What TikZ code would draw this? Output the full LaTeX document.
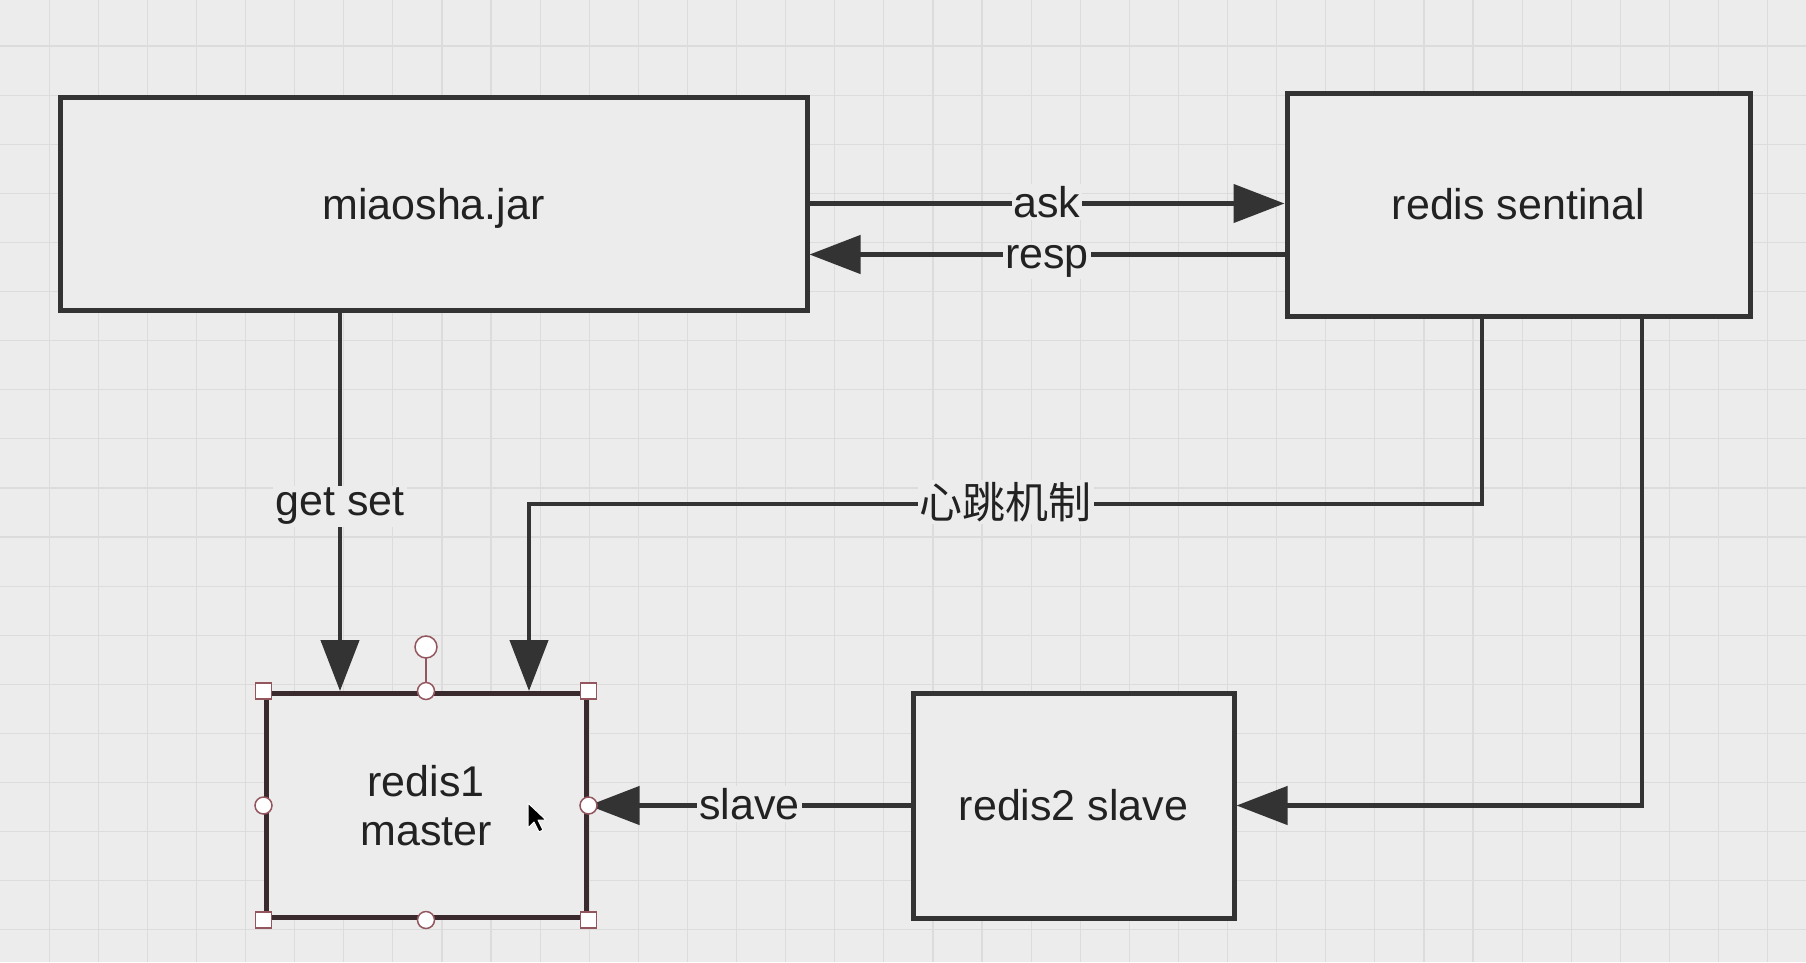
\documentclass[tikz,border=0pt]{standalone}
\usepackage{xcolor}
\usepackage{fontspec}
\usepackage{tikz}
\usetikzlibrary{arrows.meta}
\setmainfont{Liberation Sans}
\newfontfamily\cjk{Noto Sans CJK SC}

\definecolor{bgcol}{HTML}{ECECEC}
\definecolor{gridcol}{HTML}{DCDCDC}
\definecolor{linecol}{HTML}{333333}
\definecolor{textcol}{HTML}{222222}
\definecolor{selcol}{HTML}{94565E}
\definecolor{selbox}{HTML}{3A2A2D}

\tikzset{
  box/.style={draw=linecol, line width=5pt, fill=bgcol, inner sep=0pt,
    text=textcol, font=\fontsize{43}{49}\selectfont, align=center},
  link/.style={draw=linecol, line width=4.5pt,
    -{Triangle[length=51pt,width=38pt]}},
  tag/.style={fill=bgcol, inner sep=2pt, anchor=base, yshift=-14pt, text=textcol,
    font=\fontsize{43}{49}\selectfont},
  gridline/.style={draw=gridcol, line width=1.2pt},
  handle/.style={draw=selcol, fill=white, line width=1.5pt}
}

\begin{document}
\begin{tikzpicture}[x=1pt, y=-1pt]
    % background and grid
    \fill[bgcol] (0,0) rectangle (1806,962);
    \useasboundingbox (0,0) rectangle (1806,962);
    \foreach \i in {1,...,36}
      \draw[gridline] (\i*49.1,0) -- (\i*49.1,962);
    \foreach \j in {1,...,19}
      \draw[gridline] (0,\j*49.1-3.1) -- (1806,\j*49.1-3.1);

    % boxes
    \node[box, text depth=0pt, minimum width=747pt, minimum height=213pt] (jar) at (433.5,203.5) {miaosha.jar};
    \node[box, minimum width=463pt, minimum height=223pt] (sentinel) at (1518.5,204.5) {redis sentinal};
    \node[box, draw=selbox, minimum width=320pt, minimum height=224pt] (master) at (426,805.5) {redis1\\master};
    \node[box, minimum width=321pt, minimum height=225pt] (slave) at (1073.5,805.5) {redis2 slave};

    % ask / resp
    \draw[link] (jar.east) -- (jar.east -| sentinel.west) node[tag, midway] {ask};
    \draw[link] ([yshift=-50pt]sentinel.west) -- ([yshift=-50pt]sentinel.west -| jar.east)
      node[tag, midway] {resp};

    % get set
    \draw[link] ([xshift=-86pt]master.north |- jar.south) -- ([xshift=-86pt]master.north)
      node[tag, midway] {get set};

    % heartbeat
    \coordinate (beat) at (0,504);
    \draw[link] ([xshift=-36.5pt]sentinel.south) |- ([xshift=103pt]master.north |- beat)
      node[tag, pos=0.75] {\cjk 心跳机制} -- ([xshift=103pt]master.north);

    % sentinel to slave, slave to master
    \draw[link] ([xshift=123.5pt]sentinel.south) |- (slave.east);
    \draw[link] (slave.west) -- (master.east) node[tag, midway] {slave};

    % selection handles
    \coordinate (rot) at ([yshift=44pt]master.north);
    \draw[draw=selcol, line width=1.5pt] (rot) -- (master.north);
    \draw[handle] (rot) circle (11pt);
    \foreach \a in {north, south, east, west}
      \draw[handle] (master.\a) circle (8.5pt);
    \foreach \a in {north east, north west, south east, south west}
      \draw[handle] ([shift={(-8pt,-8pt)}]master.\a) rectangle ([shift={(8pt,8pt)}]master.\a);

    % mouse pointer
    \coordinate (tip) at (528,803);
    \draw[fill=black, draw=white, line width=1pt, line join=round]
      (tip) -- ++(0,25) -- ++(6,-6) -- ++(5,10) -- ++(4,-2) -- ++(-5,-10) -- ++(8,0) -- cycle;
  \end{tikzpicture}
\end{document}
